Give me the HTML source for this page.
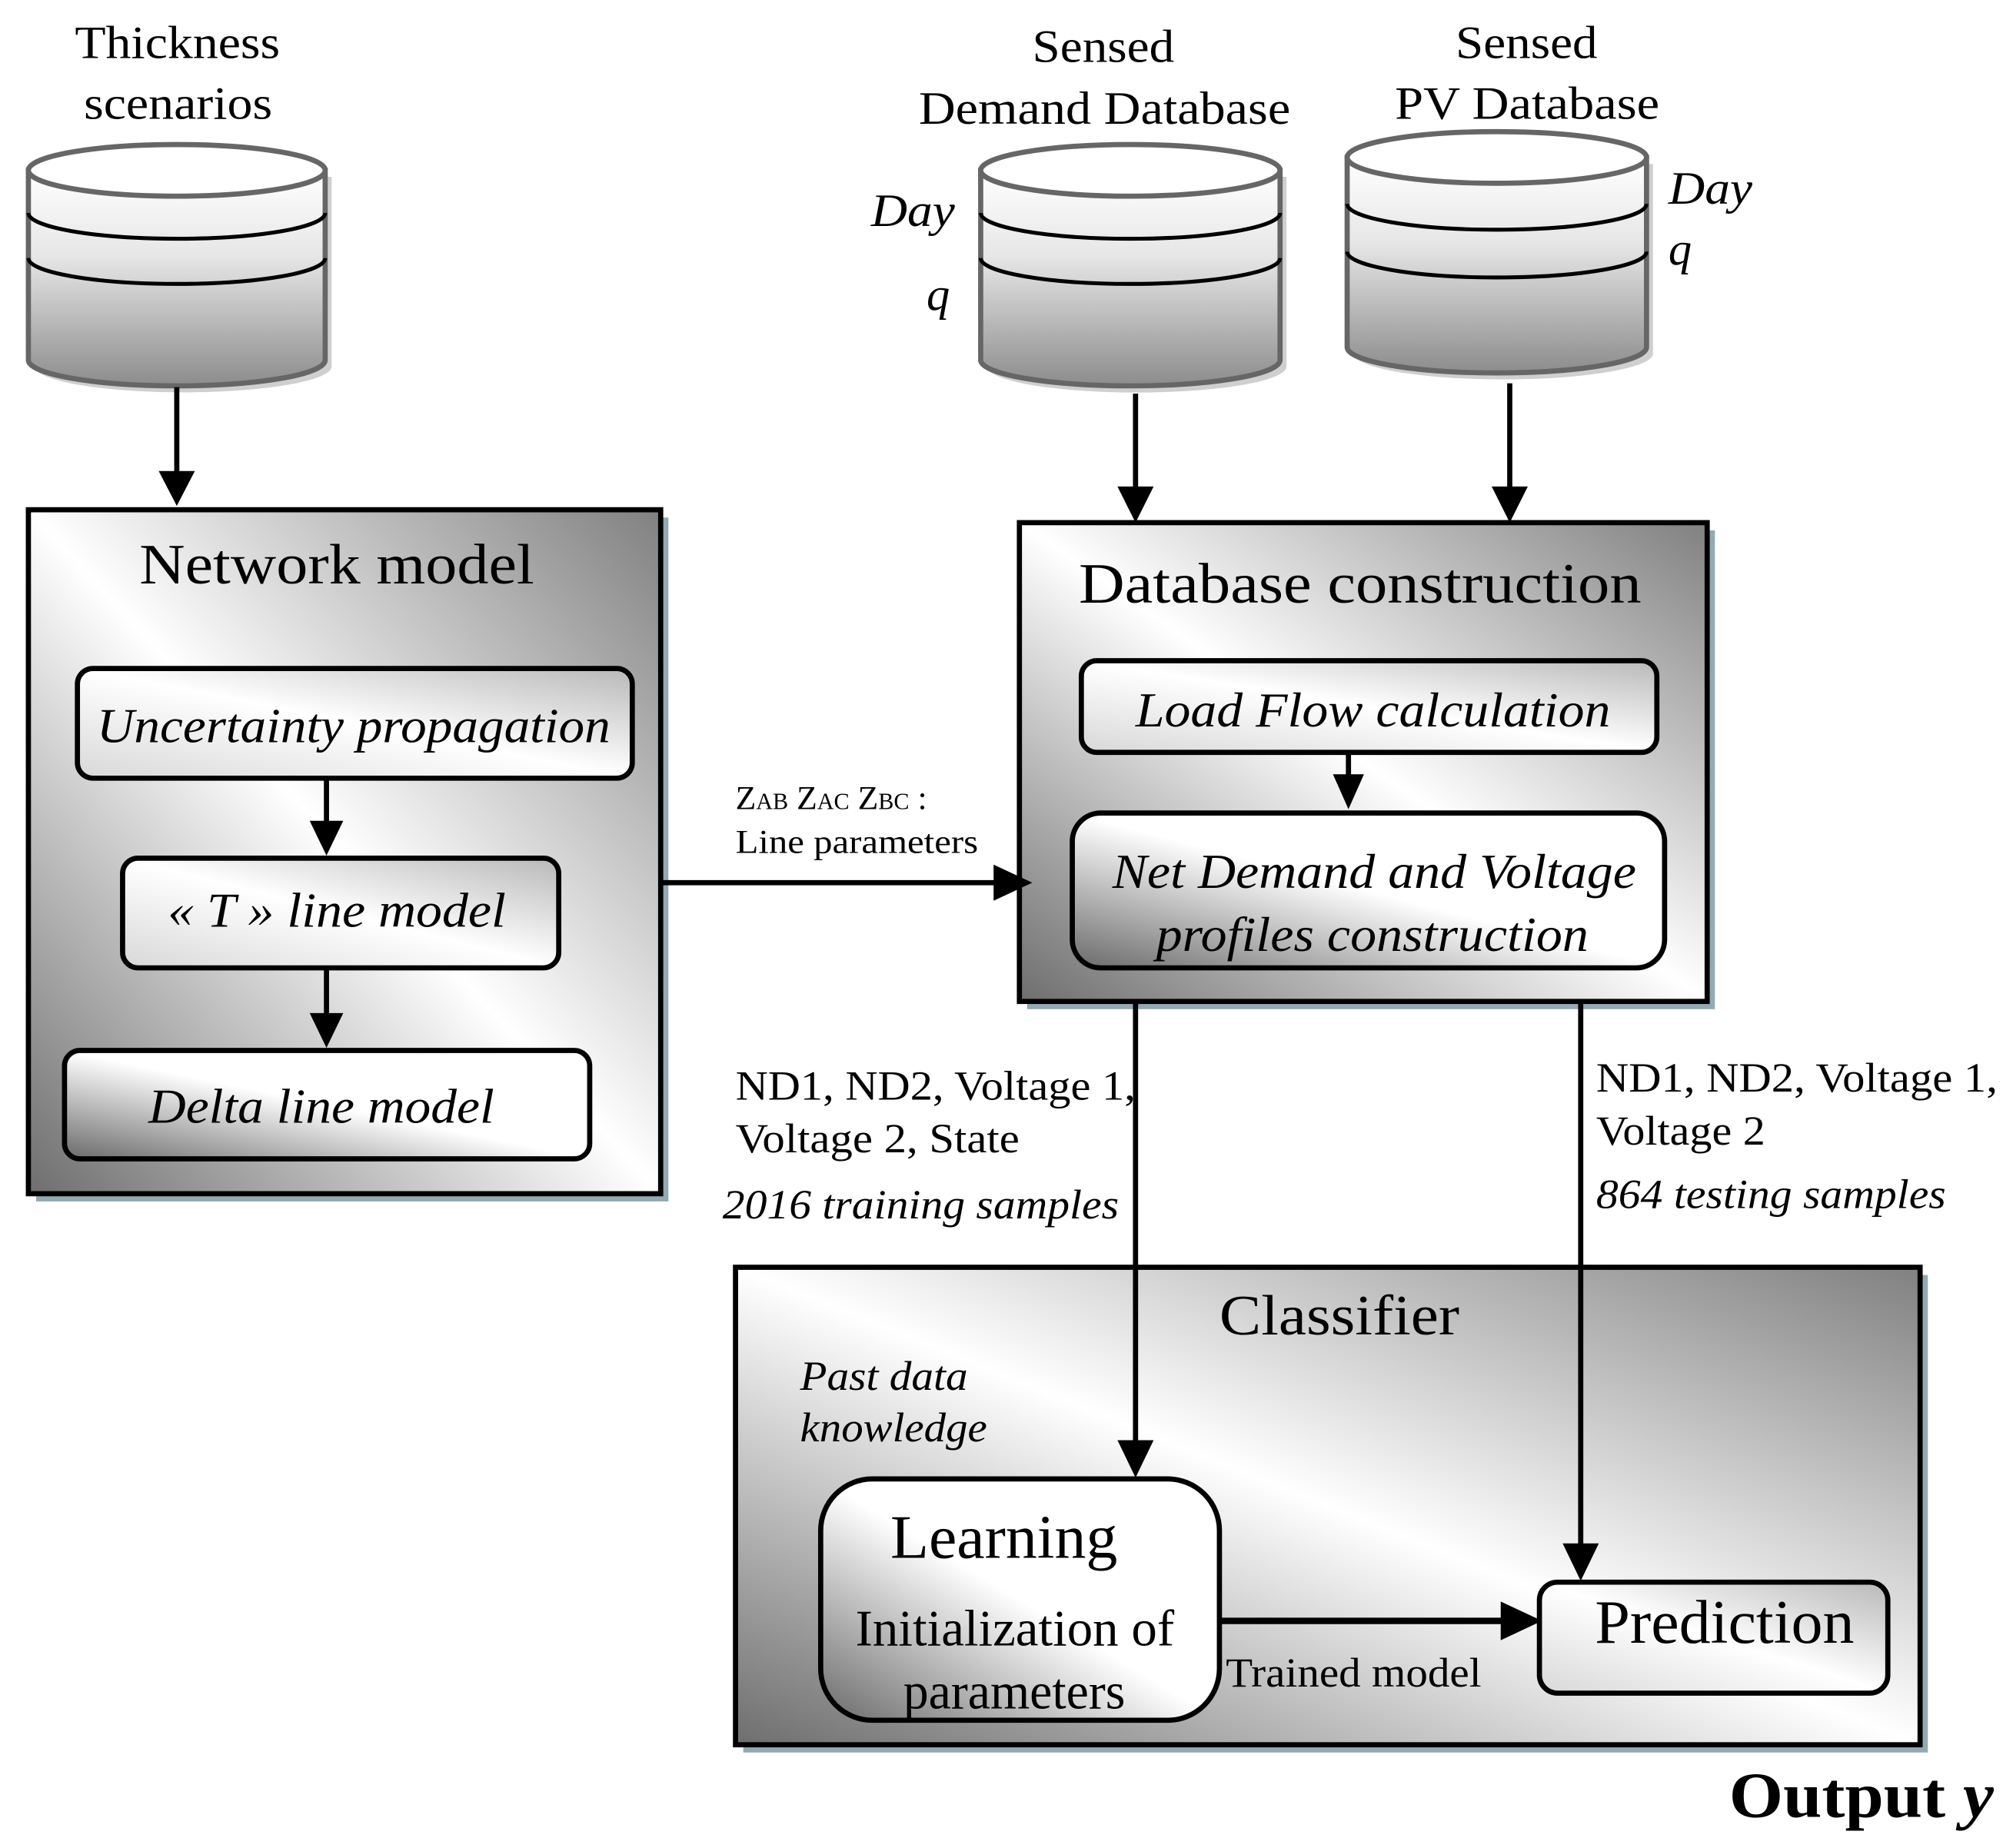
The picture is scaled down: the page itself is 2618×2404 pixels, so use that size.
<!DOCTYPE html>
<html><head><meta charset="utf-8"><style>
html,body{margin:0;padding:0;background:#fff;}
svg{display:block;}
text{font-family:"Liberation Serif",serif;fill:#000;}
.it{font-style:italic;}
</style></head><body>
<svg width="2618" height="2404" viewBox="0 0 1560 1432" preserveAspectRatio="none" xmlns="http://www.w3.org/2000/svg">
<defs>
<linearGradient id="bg" x1="1" y1="0" x2="0" y2="1">
<stop offset="0" stop-color="#808080"/><stop offset="0.5" stop-color="#ffffff"/><stop offset="1" stop-color="#6e6e6e"/>
</linearGradient>
<linearGradient id="inner" x1="1" y1="0" x2="0" y2="1">
<stop offset="0" stop-color="#b8b8b8"/><stop offset="0.5" stop-color="#ffffff"/><stop offset="1" stop-color="#d8d8d8"/>
</linearGradient>
<linearGradient id="dark" x1="0" y1="1" x2="1" y2="0">
<stop offset="0" stop-color="#6a6a6a"/><stop offset="0.5" stop-color="#ffffff"/><stop offset="1" stop-color="#ffffff"/>
</linearGradient>
<linearGradient id="cyl" x1="0" y1="0" x2="0" y2="1">
<stop offset="0" stop-color="#ffffff"/><stop offset="0.4" stop-color="#e6e6e6"/><stop offset="1" stop-color="#8c8c8c"/>
</linearGradient>
</defs>

<!-- Cylinders -->
<g>
<path d="M27,137 L27,284 A115,20 0 0 0 257,284 L257,137 z" fill="#cfcfcf"/>
<path d="M22,132 L22,279 A115,20 0 0 0 252,279 L252,132 z" fill="url(#cyl)" stroke="#666" stroke-width="4"/>
<ellipse cx="137" cy="132" rx="115" ry="20" fill="#fff" stroke="#666" stroke-width="4"/>
<path d="M22,165 A115,20 0 0 0 252,165" fill="none" stroke="#000" stroke-width="3"/>
<path d="M22,200 A115,20 0 0 0 252,200" fill="none" stroke="#000" stroke-width="3"/>
</g>
<g>
<path d="M765,137 L765,284 A115,20 0 0 0 997,284 L997,137 z" fill="#cfcfcf"/>
<path d="M760,132 L760,279 A116,20 0 0 0 992,279 L992,132 z" fill="url(#cyl)" stroke="#666" stroke-width="4"/>
<ellipse cx="876" cy="132" rx="116" ry="20" fill="#fff" stroke="#666" stroke-width="4"/>
<path d="M760,165 A116,20 0 0 0 992,165" fill="none" stroke="#000" stroke-width="3"/>
<path d="M760,200 A116,20 0 0 0 992,200" fill="none" stroke="#000" stroke-width="3"/>
</g>
<g>
<path d="M1049,127 L1049,274 A116,20 0 0 0 1281,274 L1281,127 z" fill="#cfcfcf"/>
<path d="M1044,122 L1044,269 A116,20 0 0 0 1276,269 L1276,122 z" fill="url(#cyl)" stroke="#666" stroke-width="4"/>
<ellipse cx="1160" cy="122" rx="116" ry="20" fill="#fff" stroke="#666" stroke-width="4"/>
<path d="M1044,158 A116,20 0 0 0 1276,158" fill="none" stroke="#000" stroke-width="3"/>
<path d="M1044,195 A116,20 0 0 0 1276,195" fill="none" stroke="#000" stroke-width="3"/>
</g>

<text x="58" y="45" font-size="36" textLength="159" lengthAdjust="spacingAndGlyphs">Thickness</text>
<text x="65" y="92" font-size="36" textLength="146" lengthAdjust="spacingAndGlyphs">scenarios</text>
<text x="800" y="48" font-size="36" textLength="110" lengthAdjust="spacingAndGlyphs">Sensed</text>
<text x="712" y="96" font-size="36" textLength="288" lengthAdjust="spacingAndGlyphs">Demand Database</text>
<text x="1128" y="45" font-size="36" textLength="110" lengthAdjust="spacingAndGlyphs">Sensed</text>
<text x="1081" y="92" font-size="36" textLength="205" lengthAdjust="spacingAndGlyphs">PV Database</text>
<text x="675" y="175" font-size="36" class="it" textLength="65" lengthAdjust="spacingAndGlyphs">Day</text>
<text x="718" y="240" font-size="36" class="it">q</text>
<text x="1293" y="158" font-size="36" class="it" textLength="65" lengthAdjust="spacingAndGlyphs">Day</text>
<text x="1293" y="205" font-size="36" class="it">q</text>

<!-- Network model -->
<rect x="28" y="401" width="490" height="530" fill="#93a9b3"/>
<rect x="22" y="395" width="490" height="530" fill="url(#bg)" stroke="#000" stroke-width="4"/>
<text x="108" y="452" font-size="44" textLength="306" lengthAdjust="spacingAndGlyphs">Network model</text>
<rect x="60" y="518" width="430" height="85" rx="12" fill="url(#inner)" stroke="#000" stroke-width="4"/>
<text x="75" y="575" font-size="38" class="it" textLength="398" lengthAdjust="spacingAndGlyphs">Uncertainty propagation</text>
<rect x="95" y="665" width="338" height="85" rx="12" fill="url(#inner)" stroke="#000" stroke-width="4"/>
<text x="130" y="718" font-size="38" class="it" textLength="262" lengthAdjust="spacingAndGlyphs">« T » line model</text>
<rect x="50" y="814" width="407" height="84" rx="12" fill="url(#dark)" stroke="#000" stroke-width="4"/>
<text x="115" y="870" font-size="38" class="it" textLength="268" lengthAdjust="spacingAndGlyphs">Delta line model</text>

<text x="570" y="627" font-size="26">Z<tspan font-size="18">AB</tspan> Z<tspan font-size="18">AC</tspan> Z<tspan font-size="18">BC</tspan> :</text>
<text x="570" y="661" font-size="26" textLength="188" lengthAdjust="spacingAndGlyphs">Line parameters</text>

<!-- Database construction -->
<rect x="796" y="411" width="533" height="371" fill="#93a9b3"/>
<rect x="790" y="405" width="533" height="371" fill="url(#bg)" stroke="#000" stroke-width="4"/>
<text x="836" y="467" font-size="44" textLength="436" lengthAdjust="spacingAndGlyphs">Database construction</text>
<rect x="838" y="512" width="446" height="71" rx="12" fill="url(#inner)" stroke="#000" stroke-width="4"/>
<text x="880" y="563" font-size="38" class="it" textLength="368" lengthAdjust="spacingAndGlyphs">Load Flow calculation</text>
<rect x="831" y="630" width="459" height="120" rx="22" fill="url(#dark)" stroke="#000" stroke-width="4"/>
<text x="862" y="688" font-size="38" class="it" textLength="406" lengthAdjust="spacingAndGlyphs">Net Demand and Voltage</text>
<text x="896" y="737" font-size="38" class="it" textLength="335" lengthAdjust="spacingAndGlyphs">profiles construction</text>

<text x="570" y="852" font-size="32" textLength="310" lengthAdjust="spacingAndGlyphs">ND1, ND2, Voltage 1,</text>
<text x="570" y="893" font-size="32" textLength="220" lengthAdjust="spacingAndGlyphs">Voltage 2, State</text>
<text x="560" y="944" font-size="32" class="it" textLength="307" lengthAdjust="spacingAndGlyphs">2016 training samples</text>
<text x="1237" y="846" font-size="32" textLength="311" lengthAdjust="spacingAndGlyphs">ND1, ND2, Voltage 1,</text>
<text x="1237" y="887" font-size="32" textLength="131" lengthAdjust="spacingAndGlyphs">Voltage 2</text>
<text x="1237" y="936" font-size="32" class="it" textLength="271" lengthAdjust="spacingAndGlyphs">864 testing samples</text>

<!-- Classifier -->
<rect x="576" y="988" width="918" height="370" fill="#93a9b3"/>
<rect x="570" y="982" width="918" height="370" fill="url(#bg)" stroke="#000" stroke-width="4"/>
<text x="945" y="1034" font-size="44" textLength="186" lengthAdjust="spacingAndGlyphs">Classifier</text>
<text x="620" y="1077" font-size="32" class="it" textLength="130" lengthAdjust="spacingAndGlyphs">Past data</text>
<text x="620" y="1117" font-size="32" class="it" textLength="145" lengthAdjust="spacingAndGlyphs">knowledge</text>

<rect x="636" y="1146" width="309" height="187" rx="40" fill="url(#dark)" stroke="#000" stroke-width="4"/>
<text x="690" y="1207" font-size="48" textLength="176" lengthAdjust="spacingAndGlyphs">Learning</text>
<text x="663" y="1275" font-size="40" textLength="247" lengthAdjust="spacingAndGlyphs">Initialization of</text>
<text x="700" y="1324" font-size="40" textLength="172" lengthAdjust="spacingAndGlyphs">parameters</text>
<text x="950" y="1307" font-size="32" textLength="198" lengthAdjust="spacingAndGlyphs">Trained model</text>

<rect x="1193" y="1226" width="270" height="86" rx="14" fill="url(#inner)" stroke="#000" stroke-width="4"/>
<text x="1236" y="1273" font-size="48" textLength="201" lengthAdjust="spacingAndGlyphs">Prediction</text>

<text x="1340" y="1408" font-size="50" font-weight="bold" textLength="205" lengthAdjust="spacingAndGlyphs">Output <tspan class="it">y</tspan></text>

<!-- Connectors (drawn on top) -->
<g stroke="#000" stroke-width="4" fill="none">
<line x1="137" y1="300" x2="137" y2="370"/>
<line x1="880" y1="305" x2="880" y2="380"/>
<line x1="1170" y1="297" x2="1170" y2="380"/>
<line x1="253" y1="603" x2="253" y2="640"/>
<line x1="253" y1="750" x2="253" y2="790"/>
<line x1="1045" y1="583" x2="1045" y2="605"/>
<line x1="512" y1="684" x2="775" y2="684"/>
<line x1="880" y1="776" x2="880" y2="1120"/>
<line x1="1225" y1="776" x2="1225" y2="1200"/>
<line x1="945" y1="1256" x2="1170" y2="1256" stroke-width="5"/>
</g>
<g fill="#000">
<polygon points="123,365 151,365 137,392"/>
<polygon points="866,377 894,377 880,405"/>
<polygon points="1156,377 1184,377 1170,405"/>
<polygon points="240,636 266,636 253,663"/>
<polygon points="240,785 266,785 253,812"/>
<polygon points="1033,600 1057,600 1045,627"/>
<polygon points="770,670 770,698 800,684"/>
<polygon points="866,1116 894,1116 880,1145"/>
<polygon points="1211,1196 1239,1196 1225,1225"/>
<polygon points="1163,1241 1163,1271 1195,1256"/>
</g>
</svg>
</body></html>
